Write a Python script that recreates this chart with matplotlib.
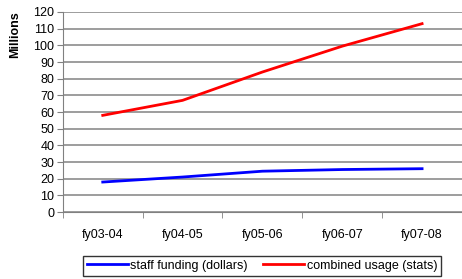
import matplotlib.pyplot as plt
import numpy as np

years = ['fy03-04', 'fy04-05', 'fy05-06', 'fy06-07', 'fy07-08']
staff_funding = [18, 21, 24.5, 25.5, 26]
combined_usage = [58, 67, 84, 99.5, 113]

plt.rcParams['font.family'] = ['Liberation Sans', 'DejaVu Sans']

fig = plt.figure(figsize=(4.62, 2.79), dpi=100)
ax = fig.add_axes([0.136, 0.240, 0.864, 0.717])

x = np.arange(len(years))
ax.plot(x, staff_funding, color='#0000ff', lw=2, label='staff funding (dollars)')
ax.plot(x, combined_usage, color='#ff0000', lw=2, label='combined usage (stats)')

ax.set_xlim(-0.5, len(years) - 0.5)
ax.set_ylim(0, 120)
ax.set_yticks(range(0, 121, 10))
ax.yaxis.grid(True, color='#8c8c8c', lw=1.2)
ax.set_axisbelow(True)

# category labels centred, tick marks between categories
ax.set_xticks(x)
ax.set_xticklabels(years)
ax.tick_params(axis='x', length=0, pad=12, labelsize=9)
ax.set_xticks(np.arange(-0.5, len(years)), minor=True)
ax.tick_params(axis='x', which='minor', length=4, color='#808080')
ax.tick_params(axis='y', length=4, color='#808080', labelsize=9, pad=2)

for s in ['top', 'right']:
    ax.spines[s].set_visible(False)
for s in ['left', 'bottom']:
    ax.spines[s].set_color('#808080')

# axis title sits at the top of the axis, as in the original
fig.text(0.033, 0.96, 'Millions', rotation=90, fontsize=9, fontweight='bold',
         ha='center', va='top')

fig.legend(loc='lower center', bbox_to_anchor=(0.567, -0.01), ncol=2,
           fontsize=9, frameon=True, fancybox=False, edgecolor='black',
           handlelength=3.3, handletextpad=0.2, columnspacing=1.2,
           borderpad=0.3)

fig.savefig('out.png', dpi=100)
